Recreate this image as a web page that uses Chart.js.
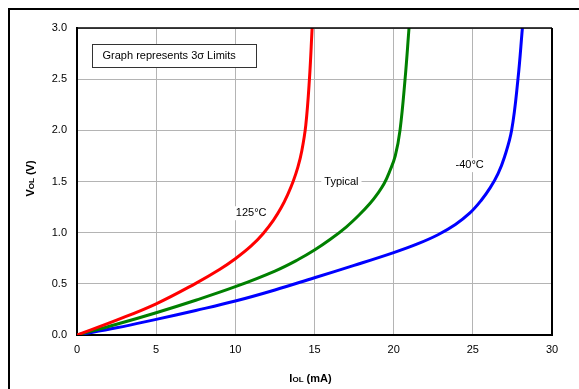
<!DOCTYPE html>
<html>
<head>
<meta charset="utf-8">
<script src="https://cdn.jsdelivr.net/npm/chart.js@4/dist/chart.umd.min.js"></script>
<style>
  html, body { margin: 0; padding: 0; background: #fff; }
  canvas { display: block; }
</style>
</head>
<body>
<canvas id="chart" width="579" height="389"></canvas>
<script>
// values (IOL in mA, VOL in V)
const hotI  = [0, 2.5, 5, 7.5, 9, 10, 11, 11.75, 12.4, 12.9, 13.3, 13.65, 13.95, 14.2, 14.45, 14.68, 14.85];
const hotV  = [0, 0.145, 0.305, 0.505, 0.64, 0.745, 0.87, 0.99, 1.12, 1.245, 1.37, 1.5, 1.64, 1.8, 2.05, 2.5, 3.0];

const typI  = [0, 2.5, 5, 7.5, 10, 12.5, 14, 15, 16, 17, 17.8, 18.5, 19.0, 19.4, 19.75, 20.1, 20.4, 20.72, 20.97];
const typV  = [0, 0.105, 0.218, 0.34, 0.472, 0.625, 0.74, 0.83, 0.935, 1.055, 1.17, 1.285, 1.385, 1.48, 1.6, 1.75, 2.0, 2.5, 3.0];

const coldI = [0, 2.5, 5, 7.5, 10, 12.5, 15, 17.5, 20, 21.5, 22.8, 23.9, 24.8, 25.5, 26.1, 26.6, 27.0, 27.45, 27.85, 28.13];
const coldV = [0, 0.07, 0.153, 0.24, 0.332, 0.44, 0.56, 0.68, 0.805, 0.89, 0.98, 1.08, 1.19, 1.31, 1.44, 1.58, 1.74, 2.0, 2.5, 3.0];

const xTicks = [0, 5, 10, 15, 20, 25, 30];
const yTicks = [0, 0.5, 1.0, 1.5, 2.0, 2.5, 3.0];

// curve labels, placed in data coordinates
const curveLabels = [
    { text: '125°C',   x: 11.0, y: 1.19 },
    { text: 'Typical', x: 16.7, y: 1.5 },
    { text: '-40°C',   x: 24.8, y: 1.66 }
];
const noteText = 'Graph represents 3σ Limits';

const FONT = '"Liberation Sans", Arial, sans-serif';

function pts(xs, ys) {
    return xs.map((x, i) => ({ x: x, y: ys[i] }));
}

function curve(label, xs, ys, color) {
    return {
        label: label,
        data: pts(xs, ys),
        showLine: true,
        borderColor: color,
        backgroundColor: color,
        borderWidth: 3,
        pointRadius: 0,
        tension: 0.4,
        fill: false
    };
}

// draws "V" + small "OL" + rest, centred at 0,0 of the current transform
function drawSubTitle(ctx, main, sub, rest) {
    const big = 'bold 11px ' + FONT;
    const small = 'bold 8px ' + FONT;
    ctx.font = big;  const w1 = ctx.measureText(main).width;
    const w3 = ctx.measureText(rest).width;
    ctx.font = small; const w2 = ctx.measureText(sub).width;
    let x = -(w1 + w2 + w3) / 2;
    ctx.textBaseline = 'alphabetic';
    ctx.textAlign = 'left';
    ctx.fillStyle = '#000';
    ctx.font = big;   ctx.fillText(main, x, 4); x += w1;
    ctx.font = small; ctx.fillText(sub, x, 4);  x += w2;
    ctx.font = big;   ctx.fillText(rest, x, 4);
}

const decorPlugin = {
    id: 'decor',
    beforeDraw(chart) {
        const ctx = chart.ctx;
        ctx.save();
        ctx.fillStyle = '#fff';
        ctx.fillRect(0, 0, chart.width, chart.height);
        // outer frame
        ctx.strokeStyle = '#000';
        ctx.lineWidth = 2;
        ctx.beginPath();
        ctx.moveTo(9, chart.height);
        ctx.lineTo(9, 9);
        ctx.lineTo(chart.width, 9);
        ctx.stroke();
        ctx.restore();
    },
    beforeDatasetsDraw(chart) {
        const ctx = chart.ctx;
        const xs = chart.scales.x, ys = chart.scales.y;
        ctx.save();
        ctx.font = '11px ' + FONT;
        ctx.textAlign = 'center';
        ctx.textBaseline = 'middle';
        curveLabels.forEach(l => {
            const px = xs.getPixelForValue(l.x);
            const py = ys.getPixelForValue(l.y);
            const w = ctx.measureText(l.text).width;
            ctx.fillStyle = '#fff';
            ctx.fillRect(px - w / 2 - 3, py - 7, w + 6, 14);
            ctx.fillStyle = '#000';
            ctx.fillText(l.text, px, py);
        });
        ctx.restore();
    },
    afterDraw(chart) {
        const ctx = chart.ctx;
        const a = chart.chartArea;
        ctx.save();
        // top and right edges of the plot
        ctx.strokeStyle = '#000';
        ctx.lineWidth = 1.5;
        ctx.beginPath();
        ctx.moveTo(a.left, a.top);
        ctx.lineTo(a.right, a.top);
        ctx.stroke();
        ctx.lineWidth = 2;
        ctx.beginPath();
        ctx.moveTo(a.right, a.top);
        ctx.lineTo(a.right, a.bottom);
        ctx.stroke();

        // note box
        const bx = a.left + 15.5, by = a.top + 16.5, bw = 164, bh = 23;
        ctx.fillStyle = '#fff';
        ctx.fillRect(bx, by, bw, bh);
        ctx.lineWidth = 1;
        ctx.strokeStyle = '#333';
        ctx.strokeRect(bx, by, bw, bh);
        ctx.fillStyle = '#000';
        ctx.font = '11px ' + FONT;
        ctx.textAlign = 'left';
        ctx.textBaseline = 'middle';
        ctx.fillText(noteText, bx + 10, by + bh / 2);

        // axis titles
        ctx.save();
        ctx.translate(30, (a.top + a.bottom) / 2 - 3);
        ctx.rotate(-Math.PI / 2);
        drawSubTitle(ctx, 'V', 'OL', ' (V)');
        ctx.restore();

        ctx.save();
        ctx.translate((a.left + a.right) / 2 - 4, 378);
        drawSubTitle(ctx, 'I', 'OL', ' (mA)');
        ctx.restore();

        ctx.restore();
    }
};

new Chart(document.getElementById('chart'), {
    type: 'scatter',
    data: {
        datasets: [
            curve('125°C', hotI, hotV, '#ff0000'),
            curve('Typical', typI, typV, '#008000'),
            curve('-40°C', coldI, coldV, '#0000ff')
        ]
    },
    options: {
        responsive: false,
        animation: false,
        layout: { padding: { left: 8, top: 28, right: 27, bottom: 0 } },
        plugins: {
            legend: { display: false },
            tooltip: { enabled: false }
        },
        scales: {
            x: {
                type: 'linear',
                min: 0, max: 30,
                afterBuildTicks: s => { s.ticks = xTicks.map(v => ({ value: v })); },
                afterFit: s => { s.height = 54; },
                ticks: {
                    color: '#000',
                    font: { family: FONT, size: 11 },
                    padding: 8,
                    maxRotation: 0
                },
                grid: { color: '#b4b4b4', lineWidth: 1, drawTicks: false },
                border: { color: '#000', width: 2 }
            },
            y: {
                type: 'linear',
                min: 0, max: 3,
                afterBuildTicks: s => { s.ticks = yTicks.map(v => ({ value: v })); },
                afterFit: s => { s.width = 69; },
                ticks: {
                    color: '#000',
                    font: { family: FONT, size: 11 },
                    padding: 10,
                    callback: v => Number(v).toFixed(1)
                },
                grid: { color: '#b4b4b4', lineWidth: 1, drawTicks: false },
                border: { color: '#000', width: 2 }
            }
        }
    },
    plugins: [decorPlugin]
});
</script>
</body>
</html>
